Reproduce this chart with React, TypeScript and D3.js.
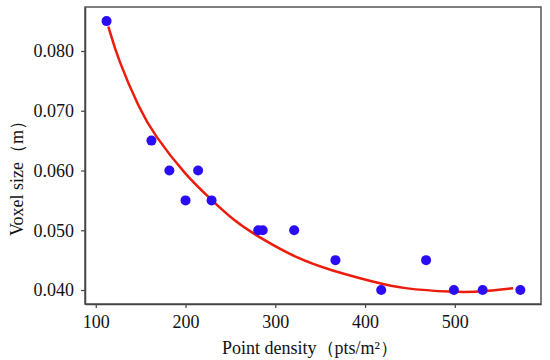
// Voxel size vs point density scatter with fitted curve (D3 renderer)

import { useRef, useEffect } from "react";
import * as d3 from "d3";

// ─── Data ────────────────────────────────────────────────────────────────────

const densities = [112, 162, 182, 200, 214, 229, 281, 286, 321, 367, 418, 468, 499, 531, 573];
const voxelSizes = [0.085, 0.065, 0.06, 0.055, 0.06, 0.055, 0.05, 0.05, 0.05, 0.045, 0.04, 0.045, 0.04, 0.04, 0.04];

// fitted curve
const fitX = [114, 125, 149, 164, 201, 229, 253, 283, 324, 361, 416, 439, 498, 532, 565];
const fitY = [0.0841, 0.0785, 0.0702, 0.0662, 0.059, 0.0551, 0.0517, 0.0487, 0.0453, 0.0433, 0.0411, 0.0403, 0.0396, 0.0397, 0.0403];

const xTicks = [100, 200, 300, 400, 500];
const yTicks = [0.04, 0.05, 0.06, 0.07, 0.08];

const xLabel = "Point density（pts/m²）";
const yLabel = "Voxel size（m）";

const WIDTH = 550;
const HEIGHT = 360;
const PLOT = { left: 85, right: 541, top: 7, bottom: 304 };
const FONT = "'Liberation Serif', 'Times New Roman', serif";

export default function App() {
  const svgRef = useRef<SVGSVGElement>(null);

  useEffect(() => {
    if (!svgRef.current) return;
    const svg = d3.select(svgRef.current);
    svg.selectAll("*").remove();

    const x = d3.scaleLinear().domain([88, 596]).range([PLOT.left, PLOT.right]);
    const y = d3.scaleLinear().domain([0.03766, 0.08736]).range([PLOT.bottom, PLOT.top]);

    // ── Frame ────────────────────────────────────────────────────────────────
    svg.append("rect")
      .attr("x", PLOT.left)
      .attr("y", PLOT.top)
      .attr("width", PLOT.right - PLOT.left)
      .attr("height", PLOT.bottom - PLOT.top)
      .attr("fill", "none")
      .attr("stroke", "#555")
      .attr("stroke-width", 1.5);

    // ── Axes ─────────────────────────────────────────────────────────────────
    const styleAxis = (gEl: any) => {
      gEl.attr("font-size", 18).attr("font-family", FONT);
      gEl.select(".domain").attr("stroke", "#444").attr("stroke-width", 1.5);
      gEl.selectAll(".tick line").attr("stroke", "#444").attr("stroke-width", 1.2);
      gEl.selectAll(".tick text")
        .attr("fill", "#111")
        .style("font-size", "18px")
        .style("font-family", FONT);
    };

    const xAxis = svg.append("g")
      .attr("transform", `translate(0,${PLOT.bottom})`)
      .call(d3.axisBottom(x).tickValues(xTicks).tickSize(4).tickSizeOuter(0).tickPadding(7));
    styleAxis(xAxis);

    const yAxis = svg.append("g")
      .attr("transform", `translate(${PLOT.left},0)`)
      .call(
        d3.axisLeft(y)
          .tickValues(yTicks)
          .tickSize(4)
          .tickSizeOuter(0)
          .tickPadding(7)
          .tickFormat((d) => d3.format(".3f")(d as number))
      );
    styleAxis(yAxis);

    // ── Fitted curve ─────────────────────────────────────────────────────────
    const line = d3.line<number>()
      .x((_, i) => x(fitX[i]))
      .y((d) => y(d))
      .curve(d3.curveBasis);

    svg.append("path")
      .datum(fitY)
      .attr("d", line)
      .attr("fill", "none")
      .attr("stroke", "#ec1c0c")
      .attr("stroke-width", 2.5);

    // ── Points ───────────────────────────────────────────────────────────────
    svg.selectAll(".pt")
      .data(voxelSizes)
      .enter()
      .append("circle")
      .attr("class", "pt")
      .attr("cx", (_, i) => x(densities[i]))
      .attr("cy", (d) => y(d))
      .attr("r", 5)
      .attr("fill", "#2a0cf5");

    // ── Axis labels ──────────────────────────────────────────────────────────
    svg.append("text")
      .attr("x", 310)
      .attr("y", 354)
      .attr("text-anchor", "middle")
      .attr("font-size", 18)
      .attr("font-family", FONT)
      .attr("fill", "#111")
      .text(xLabel);

    svg.append("text")
      .attr("transform", "rotate(-90)")
      .attr("x", -174)
      .attr("y", 23)
      .attr("text-anchor", "middle")
      .attr("font-size", 18)
      .attr("font-family", FONT)
      .attr("fill", "#111")
      .text(yLabel);
  }, []);

  return (
    <svg
      ref={svgRef}
      width={WIDTH}
      height={HEIGHT}
      style={{ position: "absolute", left: 0, top: 0, background: "#fff" }}
    />
  );
}
